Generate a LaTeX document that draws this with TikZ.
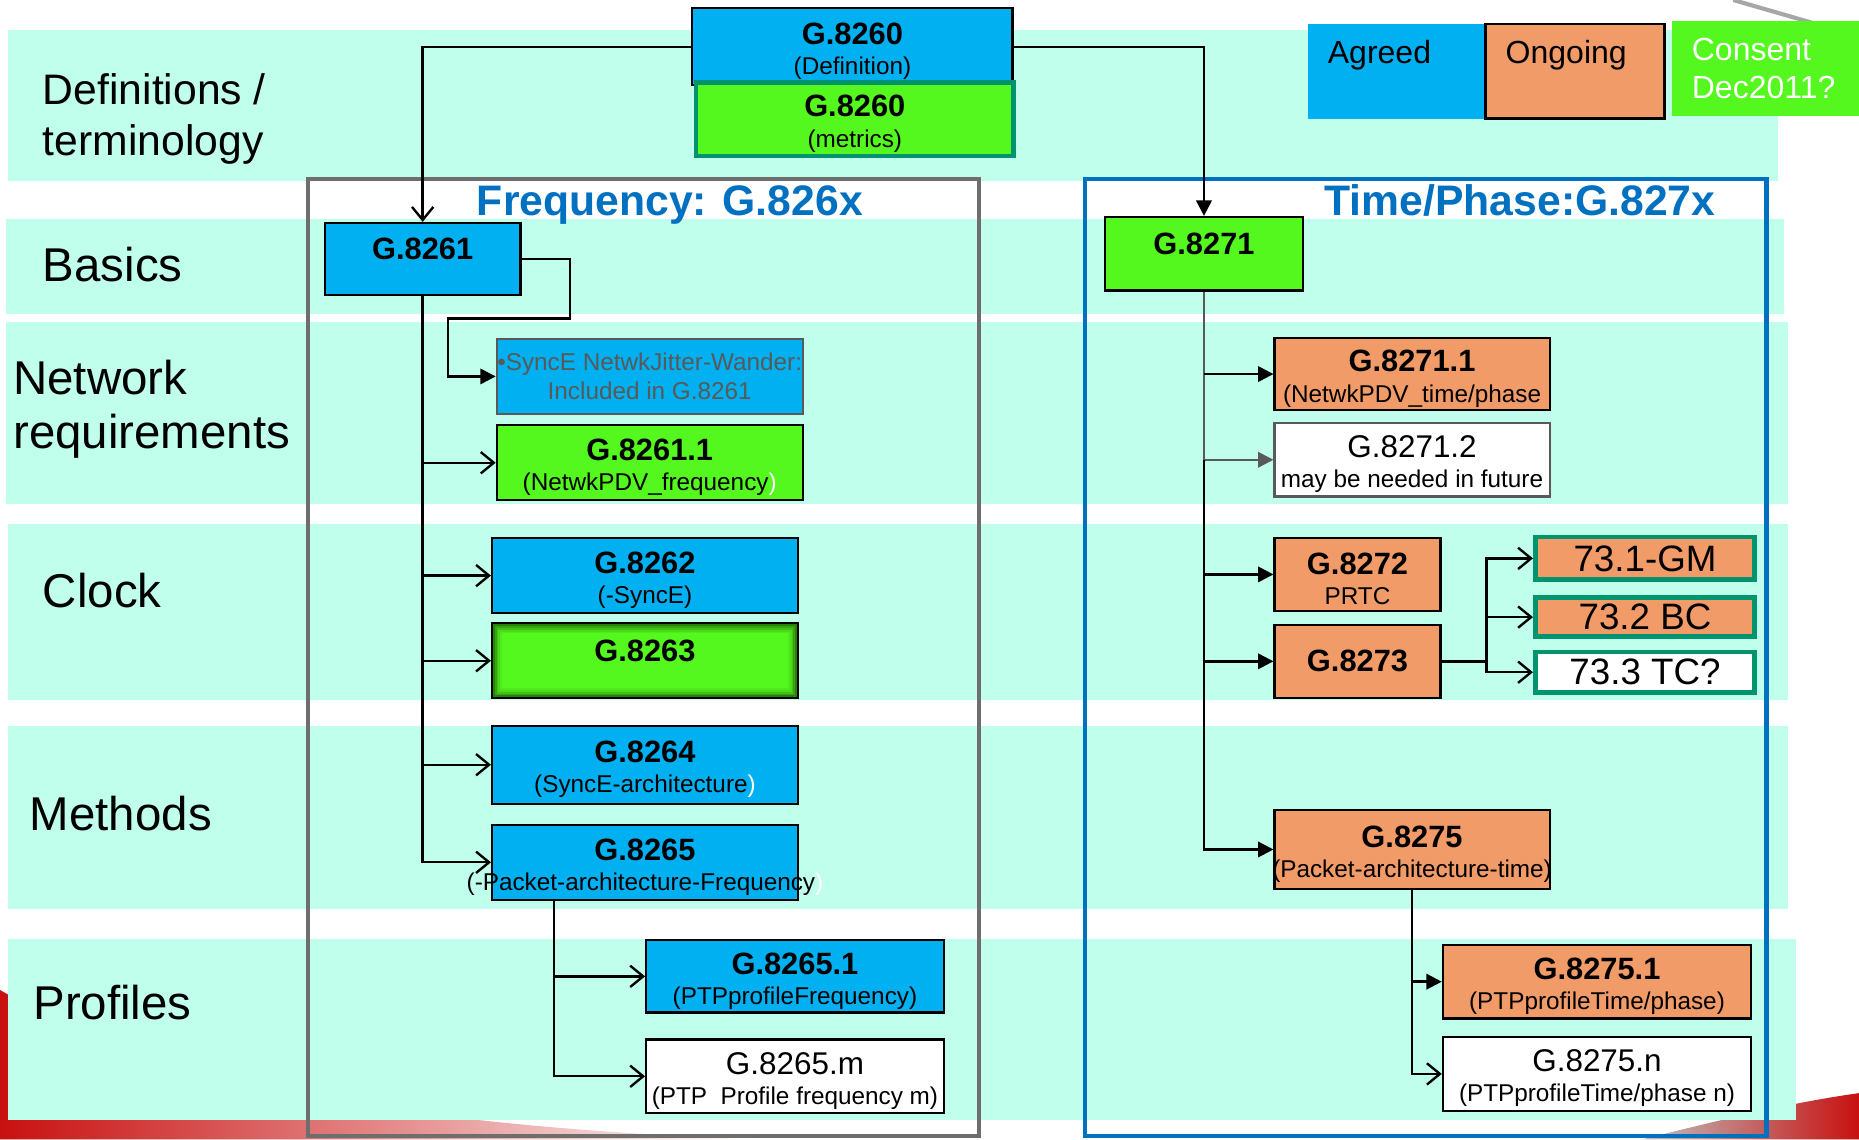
\documentclass[tikz,border=0pt]{standalone}
\usepackage{fontspec}
\setmainfont{Liberation Sans}
\usetikzlibrary{positioning, arrows.meta, calc}

\definecolor{bandcol}{RGB}{192,255,236}
\definecolor{agreedcol}{RGB}{0,176,240}
\definecolor{ongoingcol}{RGB}{241,155,104}
\definecolor{consentcol}{RGB}{84,247,30}
\definecolor{tealcol}{RGB}{0,148,110}
\definecolor{titlecol}{RGB}{0,112,192}
\definecolor{framegray}{RGB}{110,110,110}
\definecolor{notegray}{RGB}{89,89,89}
\definecolor{swooshred}{RGB}{200,16,16}
\definecolor{glowgreen}{RGB}{30,100,5}

\newcommand{\gtitle}[1]{\rule{0pt}{26pt}{\fontsize{26}{26}\selectfont\bfseries #1}}
\newcommand{\gname}[1]{\rule{0pt}{26pt}{\fontsize{26.5}{26}\selectfont #1}}
\newcommand{\wideline}[1]{\makebox[200pt]{#1}}

\begin{document}
\begin{tikzpicture}[x=1pt, y=-1pt,
	% --- Styles ---
	band/.style={fill=bandcol},
	gbox/.style={
		rectangle, draw, line width=1.8pt, inner sep=0pt, align=center,
		font=\fontsize{20.5}{25.5}\selectfont
	},
	agreed/.style={gbox, fill=agreedcol},
	ongoing/.style={gbox, fill=ongoingcol},
	consent/.style={gbox, fill=consentcol},
	future/.style={gbox, fill=white},
	tealframe/.style={draw=tealcol, line width=4pt},
	profile73/.style={gbox, tealframe, minimum width=185pt, font=\fontsize{31}{31}\selectfont},
	legendbox/.style={
		rectangle, inner xsep=17pt, inner ysep=0pt, minimum height=80pt, align=left,
		font=\fontsize{27}{32}\selectfont
	},
	rowlabel/.style={anchor=west, inner sep=0pt, align=left, font=\fontsize{40}{46}\selectfont},
	grouptitle/.style={anchor=base, inner sep=0pt, text=titlecol, font=\fontsize{36}{36}\selectfont\bfseries},
	groupframe/.style={line width=3.5pt},
	conn/.style={draw, line width=2pt},
	openarrow/.style={conn, -{Straight Barb[length=11pt, width=18pt]}},
	solidarrow/.style={conn, -{Triangle[length=13pt, width=13pt]}}
	]
	
	\useasboundingbox (0,0) rectangle (1568,961);
	
	% --- Slide template swooshes ---
	\shade[left color=swooshred, middle color=swooshred, right color=white]
		(0,835) .. controls (130,910) and (330,950) .. (640,961) -- (0,961) -- cycle;
	\shade[left color=gray!50, right color=swooshred]
		(1385,961) .. controls (1450,945) and (1510,930) .. (1568,922) -- (1568,961) -- cycle;
	\draw[gray!70, line width=3.5pt] (1462,0) -- (1545,24);
	
	% --- Row bands ---
	\fill[band] (7,25) rectangle (1500,153);
	\fill[band] (5,185) rectangle (1505,265);
	\fill[band] (5,272) rectangle (1508,425);
	\fill[band] (7,442) rectangle (1508,590);
	\fill[band] (7,612) rectangle (1508,767);
	\fill[band] (7,792) rectangle (1515,945);
	
	% --- Row labels ---
	\node[rowlabel, font=\fontsize{36}{43}\selectfont] (lbldef) at (36,100) {Definitions /\\terminology};
	\node[rowlabel] (lblbasics) at (36,223) {Basics};
	\node[rowlabel] (lblnet) at (11,345) {Network\\requirements};
	\node[rowlabel] (lblclock) at (36,498) {Clock};
	\node[rowlabel] (lblmeth) at (25,686) {Methods};
	\node[rowlabel] (lblprof) at (28,846) {Profiles};
	
	% --- Group frames ---
	\draw[groupframe, draw=framegray] (260,151) rectangle (826,958);
	\draw[groupframe, draw=titlecol] (915,151) rectangle (1490,958);
	\node[grouptitle] (freqtitle) at (565,182) {Frequency: G.826x};
	\node[grouptitle] (timetitle) at (1282,182) {Time/Phase:G.827x};
	
	% --- Legend ---
	\node[legendbox, fill=agreedcol, text width=115pt] (legagreed) at (1177.5,60) {Agreed\\\mbox{}};
	\node[legendbox, fill=ongoingcol, draw, line width=2pt, text width=117pt] (legongoing) at (1328.5,60) {Ongoing\\\mbox{}};
	\node[legendbox, fill=consentcol, text=white, text width=124pt] (legconsent) at (1489,58) {Consent\\Dec2011?};
	
	% --- Definitions ---
	\node[agreed, minimum width=270pt, minimum height=65pt] (g8260def) at (719,39.5) {\gtitle{G.8260}\\(Definition)};
	\node[consent, tealframe, minimum width=268pt, minimum height=62pt] (g8260met) at (721,100.5) {\gtitle{G.8260}\\(metrics)};
	
	% --- Basics ---
	\node[agreed, minimum width=165pt, minimum height=61pt] (g8261) at (356.5,218.5) {\gtitle{G.8261}\\\mbox{}};
	\node[consent, minimum width=167pt, minimum height=62pt] (g8271) at (1015.5,214) {\gtitle{G.8271}\\\mbox{}};
	
	% --- Network requirements ---
	\node[agreed, draw=notegray, text=notegray, minimum width=258pt, minimum height=63pt,
		font=\fontsize{20.5}{24}\selectfont] (synce) at (548,317.5) {\textbullet SyncE NetwkJitter-Wander:\\Included in G.8261};
	\node[consent, below=8pt of synce, minimum width=258pt, minimum height=63pt] (g82611) {\gtitle{G.8261.1}\\(NetwkPDV\_frequency\textcolor{white}{)}};
	\node[ongoing, minimum width=232pt, minimum height=61pt] (g82711) at (1191,315.5) {\gtitle{G.8271.1}\\(NetwkPDV\_time/phase};
	\node[future, draw=notegray, below=9pt of g82711, minimum width=232pt, minimum height=62pt] (g82712) {\gname{G.8271.2}\\may be needed in future};
	
	% --- Clock ---
	\node[agreed, minimum width=258pt, minimum height=63pt] (g8262) at (544,485.5) {\gtitle{G.8262}\\(-SyncE)};
	\node[consent, below=7pt of g8262, minimum width=258pt, minimum height=63pt] (g8263) {\gtitle{G.8263}\\\mbox{}};
	\foreach \i/\o in {2.5/0.8, 4/0.55, 5.5/0.35, 7/0.18, 8.5/0.08}
		\draw[glowgreen, line width=1.5pt, opacity=\o] ($(g8263.south west)+(\i,-\i)$) rectangle ($(g8263.north east)+(-\i,\i)$);
	\node[ongoing, minimum width=140pt, minimum height=61pt] (g8272) at (1145,484.5) {\gtitle{G.8272}\\PRTC};
	\node[ongoing, below=10pt of g8272, minimum width=140pt, minimum height=62pt,
		font=\fontsize{26}{26}\selectfont\bfseries] (g8273) {G.8273};
	\node[profile73, fill=ongoingcol, minimum height=36pt] (gm) at (1387.5,471) {73.1-GM};
	\node[profile73, fill=ongoingcol, below=11pt of gm, minimum height=33pt] (bc) {73.2 BC};
	\node[profile73, fill=white, below=9pt of bc, minimum height=34pt] (tc) {73.3 TC?};
	
	% --- Methods ---
	\node[agreed, minimum width=258pt, minimum height=66pt] (g8264) at (544,645) {\gtitle{G.8264}\\(SyncE-architecture\textcolor{white}{)}};
	\node[agreed, below=16pt of g8264, minimum width=258pt, minimum height=63pt] (g8265) {\gtitle{G.8265}\\\wideline{(-Packet-architecture-Frequency\textcolor{white}{)}}};
	\node[ongoing, minimum width=232pt, minimum height=67pt] (g8275) at (1191,716.5) {\gtitle{G.8275}\\\wideline{(Packet-architecture-time)}};
	
	% --- Profiles ---
	\node[agreed, minimum width=251pt, minimum height=61pt] (g82651) at (670.5,823.5) {\gtitle{G.8265.1}\\(PTPprofileFrequency)};
	\node[future, below=21pt of g82651, minimum width=251pt, minimum height=62pt] (g8265m) {\gname{G.8265.m}\\(PTP~~Profile frequency m)};
	\node[ongoing, minimum width=260pt, minimum height=62pt] (g82751) at (1347,828) {\gtitle{G.8275.1}\\(PTPprofileTime/phase)};
	\node[future, below=14pt of g82751, minimum width=260pt, minimum height=62pt] (g8275n) {\gname{G.8275.n}\\(PTPprofileTime/phase n)};
	
	% --- Connections from G.8260 ---
	\draw[openarrow] (g8260def.west) -| (g8261.north);
	\draw[solidarrow] (g8260def.east) -| (g8271.north);
	
	% --- Frequency trunk ---
	\coordinate (syncejog) at ($(synce.west)+(-40,0)$);
	\draw[solidarrow] (g8261.east) -- ++(41,0) -- ++(0,50) -| (syncejog) -- (synce.west);
	\draw[openarrow] (g8261.south) |- (g8265.west);
	\foreach \n in {g82611, g8262, g8263, g8264}
		\draw[openarrow] (g8261.south |- \n.west) -- (\n.west);
	\coordinate (fsplit) at ($(g8265.south west)+(53,0)$);
	\draw[openarrow] (fsplit) |- (g8265m.west);
	\draw[openarrow] (fsplit |- g82651.west) -- (g82651.west);
	
	% --- Time/phase trunk ---
	\draw[conn, notegray] (g8271.south) -- (g8271.south |- g82712.west);
	\draw[solidarrow, notegray] (g8271.south |- g82712.west) -- (g82712.west);
	\draw[solidarrow] (g8271.south |- g82712.west) |- (g8275.west);
	\foreach \n in {g82711, g8272, g8273}
		\draw[solidarrow] (g8271.south |- \n.west) -- (\n.west);
	\coordinate (tsplit) at ($(g8273.east)+(38,0)$);
	\draw[conn] (g8273.east) -- (tsplit);
	\foreach \n in {gm, bc, tc}
		\draw[openarrow] (tsplit) |- (\n.west);
	\draw[openarrow] (g8275.south) |- (g8275n.west);
	\draw[solidarrow] (g8275.south |- g82751.west) -- (g82751.west);
	
\end{tikzpicture}
\end{document}
